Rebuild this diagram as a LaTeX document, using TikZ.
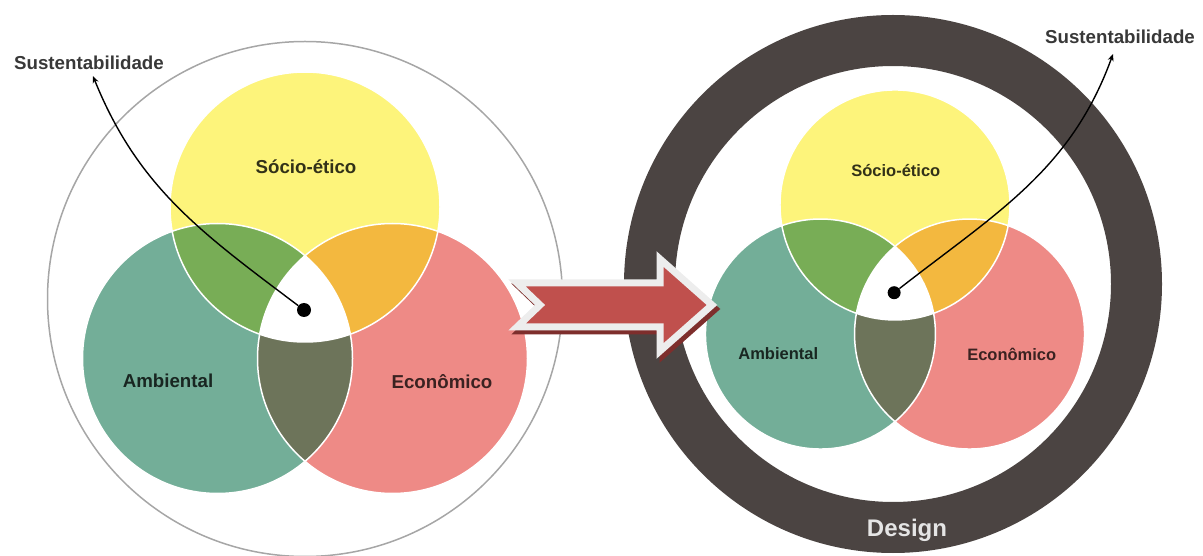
\documentclass[tikz,border=0pt]{standalone}
\usepackage{fontspec}
\setmainfont{Liberation Sans}
\usetikzlibrary{positioning,calc}
\usetikzlibrary{arrows.meta}

\definecolor{soc}{HTML}{FDF47B}
\definecolor{amb}{HTML}{73AE98}
\definecolor{eco}{HTML}{EE8A86}
\definecolor{socamb}{HTML}{78AD56}
\definecolor{soceco}{HTML}{F3B83F}
\definecolor{ambeco}{HTML}{6D745A}
\definecolor{ringc}{HTML}{4B4442}
\definecolor{arrowred}{HTML}{C0504D}
\definecolor{arrowshade}{HTML}{7E2E2C}

\tikzset{
  lbl/.style={font=\fontsize{18.7}{20}\selectfont\bfseries},
  sust/.style={font=\fontsize{18.7}{20}\selectfont\bfseries, text=black!78, inner sep=2pt},
  dot/.style={circle, fill=black, inner sep=0pt, minimum size=14pt},
  pointer/.style={line width=1.4pt, -{Stealth[length=7pt,width=6pt]}},
}

% three circles round (0,0); #1 = prefix for the node names
\newcommand{\venn}[1]{%
  \fill[soc] (0,101) circle (135);
  \fill[amb] (-87.5,-50.5) circle (135);
  \fill[eco] (87.5,-50.5) circle (135);
  \begin{scope}
    \clip (0,101) circle (135);
    \fill[socamb] (-87.5,-50.5) circle (135);
    \fill[soceco] (87.5,-50.5) circle (135);
  \end{scope}
  \begin{scope}
    \clip (-87.5,-50.5) circle (135);
    \fill[ambeco] (87.5,-50.5) circle (135);
    \clip (87.5,-50.5) circle (135);
    \fill[white] (0,101) circle (135);
  \end{scope}
  \draw[white, line width=1.5pt] (0,101) circle (135) (-87.5,-50.5) circle (135) (87.5,-50.5) circle (135);
  \node[lbl, text=soc!20!black] (#1soc) at (1,141) {Sócio-ético};
  \node[lbl, text=amb!22!black] (#1amb) at (-137,-73) {Ambiental};
  \node[lbl, text=eco!25!black] (#1eco) at (137,-74) {Econômico};
  \node[dot] (#1dot) at (-1,-2) {};
}

\begin{document}
\begin{tikzpicture}[x=1pt,y=1pt]
\useasboundingbox (0,0) rectangle (1203,555);

% left: the three pillars
\draw[black!35, line width=1.5pt] (305,256) circle (257.5);
\begin{scope}[shift={(305,247)}]
  \venn{L}
\end{scope}

% right: the same inside design
\fill[ringc, even odd rule] (893,271) circle (269) (893,271) circle (218);
\begin{scope}[shift={(895,264)}, scale=0.852,
    lbl/.append style={font=\fontsize{16.5}{18}\selectfont\bfseries},
    dot/.append style={minimum size=13pt}]
  \venn{R}
\end{scope}
\node[font=\fontsize{24}{26}\selectfont\bfseries, text=white!90!black] (design) at (907,25) {Design};

\node[sust] (susL) at (89,492) {Sustentabilidade};
\node[sust] (susR) at (1120,518) {Sustentabilidade};
\draw[pointer] (Ldot) to[out=143,in=-68] ([xshift=4pt,yshift=-4pt]susL.south);
\draw[pointer] (Rdot) to[out=38,in=-110] ([xshift=-7pt,yshift=-8pt]susR.south);

% big arrow
\draw[arrowshade, line width=7pt, line join=miter]
  (520,268) -- (663,268) -- (663,292) -- (715,246) -- (663,200) -- (663,224) -- (520,224) -- (543,246) -- cycle;
\filldraw[fill=arrowred, draw=white!93!black, line width=7pt, line join=miter]
  (517,272) -- (660,272) -- (660,296) -- (712,250) -- (660,204) -- (660,228) -- (517,228) -- (540,250) -- cycle;
\end{tikzpicture}
\end{document}
